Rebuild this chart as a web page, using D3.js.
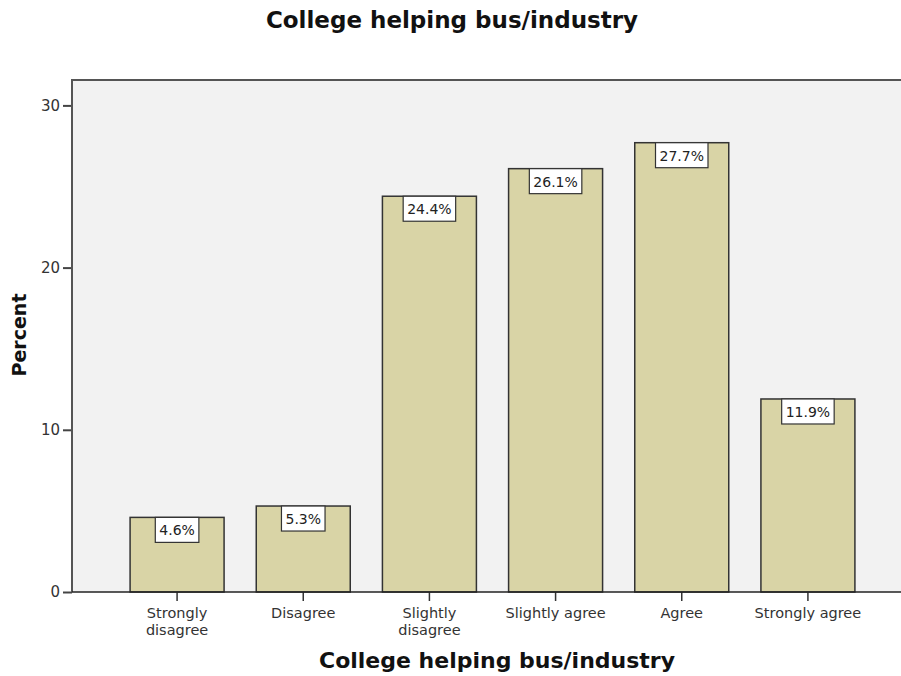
<!DOCTYPE html>
<html>
<head>
<meta charset="utf-8">
<script src="https://cdn.jsdelivr.net/npm/d3@7/dist/d3.min.js"></script>
<style>
  html, body { margin: 0; padding: 0; background: #fff; }
  svg { display: block; font-family: "DejaVu Sans", sans-serif; }
</style>
</head>
<body>
<svg id="chart" width="901" height="676"></svg>
<script>
// Response categories (label lines) and percentages
const categories = ["Strongly disagree", "Disagree", "Slightly disagree", "Slightly agree", "Agree", "Strongly agree"];
const categoryLines = [["Strongly", "disagree"], ["Disagree"], ["Slightly", "disagree"], ["Slightly agree"], ["Agree"], ["Strongly agree"]];
const percents = [4.6, 5.3, 24.4, 26.1, 27.7, 11.9];
const yTicks = [0, 10, 20, 30];

const titleText = "College helping bus/industry";
const xTitle = "College helping bus/industry";
const yTitle = "Percent";

const svg = d3.select("#chart");
const plot = { left: 72, top: 80, right: 922, bottom: 592 };

const x = d3.scaleBand()
  .domain(categories)
  .range([114, 871])
  .paddingInner(0.255)
  .paddingOuter(0.1275);

const y = d3.scaleLinear()
  .domain([0, 30])
  .range([plot.bottom, plot.bottom - 30 * 16.22]);

// Plot background
svg.append("rect")
  .attr("x", plot.left).attr("y", plot.top)
  .attr("width", plot.right - plot.left)
  .attr("height", plot.bottom - plot.top)
  .attr("fill", "#f2f2f2");

// Top frame line
svg.append("line")
  .attr("x1", plot.left).attr("x2", plot.right)
  .attr("y1", plot.top).attr("y2", plot.top)
  .attr("stroke", "#555").attr("stroke-width", 2);

// Bars
const data = categories.map((c, i) => ({ cat: c, value: percents[i], lines: categoryLines[i] }));

svg.append("g").selectAll("rect")
  .data(data)
  .join("rect")
  .attr("x", d => x(d.cat))
  .attr("y", d => y(d.value))
  .attr("width", x.bandwidth())
  .attr("height", d => y(0) - y(d.value))
  .attr("fill", "#d9d4a6")
  .attr("stroke", "#333")
  .attr("stroke-width", 1.5);

// Value label boxes
const labels = svg.append("g").selectAll("g")
  .data(data)
  .join("g")
  .attr("transform", d => `translate(${x(d.cat) + x.bandwidth() / 2},${y(d.value)})`);

labels.append("text")
  .attr("text-anchor", "middle")
  .attr("y", 18)
  .attr("font-size", 14)
  .attr("fill", "#222")
  .text(d => d.value.toFixed(1) + "%");

labels.each(function () {
  const g = d3.select(this);
  const bb = g.select("text").node().getBBox();
  g.insert("rect", "text")
    .attr("x", -bb.width / 2 - 4)
    .attr("y", 0)
    .attr("width", bb.width + 8)
    .attr("height", 25)
    .attr("fill", "#fff")
    .attr("stroke", "#333")
    .attr("stroke-width", 1.2);
});

// Y axis
const yAxis = svg.append("g")
  .attr("transform", `translate(${plot.left},0)`)
  .call(d3.axisLeft(y).tickValues(yTicks).tickSize(9).tickPadding(3).tickFormat(d3.format("d")));
yAxis.select(".domain").remove();
yAxis.selectAll(".tick line").attr("stroke", "#444").attr("stroke-width", 2);
yAxis.selectAll(".tick text").attr("font-size", 15).attr("fill", "#333").attr("font-family", "DejaVu Sans");
svg.append("line")
  .attr("x1", plot.left).attr("x2", plot.left)
  .attr("y1", plot.top - 1).attr("y2", plot.bottom)
  .attr("stroke", "#555").attr("stroke-width", 2);

// X axis
const xAxis = svg.append("g")
  .attr("transform", `translate(0,${plot.bottom})`)
  .call(d3.axisBottom(x).tickSize(9).tickFormat(""));
xAxis.select(".domain").remove();
xAxis.selectAll(".tick line").attr("stroke", "#333").attr("stroke-width", 1.5);
svg.append("line")
  .attr("x1", plot.left).attr("x2", plot.right)
  .attr("y1", plot.bottom).attr("y2", plot.bottom)
  .attr("stroke", "#222").attr("stroke-width", 1.5);

// Category labels, wrapped onto lines
const catLabels = svg.append("g").selectAll("text")
  .data(data)
  .join("text")
  .attr("text-anchor", "middle")
  .attr("font-size", 14.5)
  .attr("fill", "#333")
  .attr("x", d => x(d.cat) + x.bandwidth() / 2)
  .attr("y", 618);
catLabels.selectAll("tspan")
  .data(d => d.lines.map(l => ({ l, cx: x(d.cat) + x.bandwidth() / 2 })))
  .join("tspan")
  .attr("x", t => t.cx)
  .attr("dy", (t, i) => i === 0 ? 0 : 16.5)
  .text(t => t.l);

// Titles
svg.append("text")
  .attr("x", 452).attr("y", 28)
  .attr("text-anchor", "middle")
  .attr("font-size", 23).attr("font-weight", "bold").attr("fill", "#111")
  .text(titleText);

svg.append("text")
  .attr("x", (plot.left + plot.right) / 2).attr("y", 668)
  .attr("text-anchor", "middle")
  .attr("font-size", 22).attr("font-weight", "bold").attr("fill", "#111")
  .text(xTitle);

svg.append("text")
  .attr("transform", `translate(26,335) rotate(-90)`)
  .attr("text-anchor", "middle")
  .attr("font-size", 19).attr("font-weight", "bold").attr("fill", "#111")
  .text(yTitle);
</script>
</body>
</html>
